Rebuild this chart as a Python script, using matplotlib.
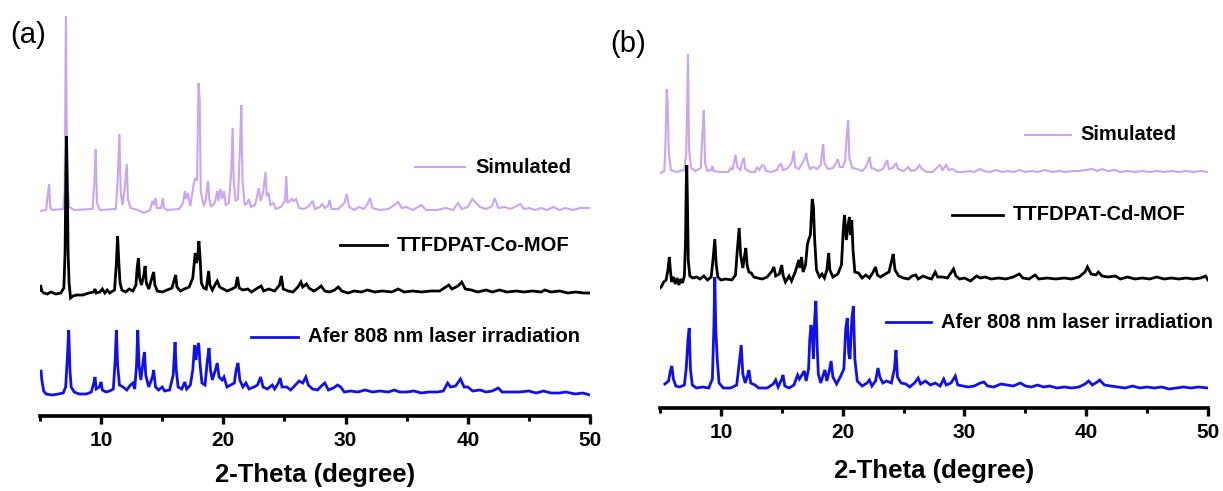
import matplotlib
matplotlib.use('Agg')
import matplotlib.pyplot as plt
import numpy as np
from matplotlib.ticker import MultipleLocator

plt.rcParams['font.family'] = ['Liberation Sans', 'DejaVu Sans']
plt.rcParams['font.weight'] = 'bold'

# (2-theta, intensity above own baseline)
sim_co = [
    (5.0, 0), (5.5, 1), (5.62, 14), (5.74, 27), (5.84, 4), (6.0, 1), (6.9, 2), (7.02, 20), (7.12, 195),
    (7.22, 30), (7.4, 4), (7.8, 1), (9.3, 2), (9.45, 30), (9.56, 62), (9.66, 8), (9.9, 1), (11.2, 2),
    (11.35, 30), (11.5, 77), (11.6, 20), (11.75, 6), (11.95, 25), (12.1, 47), (12.2, 12), (12.4, 3),
    (13.0, 1), (13.5, -2), (14.0, 1), (14.2, 10), (14.3, 6), (14.45, 13), (14.55, 3), (14.9, 3),
    (15.05, 13), (15.15, 3), (15.4, 1), (16.4, 2), (16.7, 8), (16.85, 20), (16.95, 12), (17.1, 18),
    (17.3, 5), (17.55, 25), (17.7, 33), (17.85, 30), (17.97, 128), (18.07, 110), (18.15, 20), (18.4, 5),
    (18.55, 10), (18.75, 30), (18.85, 12), (19.0, 4), (19.3, 8), (19.5, 20), (19.6, 10), (19.75, 22),
    (19.9, 12), (20.05, 20), (20.2, 6), (20.45, 8), (20.65, 40), (20.76, 83), (20.85, 30), (21.0, 10),
    (21.2, 12), (21.38, 70), (21.47, 106), (21.57, 30), (21.75, 6), (21.95, 8), (22.1, 12), (22.25, 4),
    (22.6, 6), (22.9, 23), (23.05, 10), (23.25, 18), (23.45, 39), (23.55, 15), (23.7, 18), (23.85, 6),
    (24.1, 8), (24.3, 2), (24.7, 4), (25.05, 10), (25.15, 35), (25.25, 8), (25.45, 10), (25.6, 12),
    (25.75, 10), (25.95, 12), (26.2, 3), (26.6, 2), (27.0, 5), (27.3, 10), (27.5, 2), (27.9, 4),
    (28.1, 7), (28.3, 3), (28.55, 5), (28.7, 11), (28.85, 2), (29.4, 2), (29.9, 8), (30.1, 17),
    (30.3, 4), (30.7, 1), (31.1, 4), (31.5, 2), (31.8, 7), (32.0, 13), (32.2, 3), (32.8, 1), (33.5, 2),
    (34.0, 6), (34.3, 9), (34.6, 3), (35.0, 4), (35.5, 1), (36.2, 6), (36.6, 1), (37.5, 1), (38.2, 3),
    (38.8, 1), (39.2, 8), (39.5, 2), (40.0, 4), (40.37, 12), (40.6, 9), (41.0, 4), (41.5, 2), (42.0, 5),
    (42.2, 13), (42.5, 3), (43.0, 4), (43.5, 2), (44.0, 5), (44.3, 7), (44.6, 2), (45.0, 3), (45.5, 1),
    (46.0, 3), (46.5, 1), (47.0, 4), (47.5, 1), (48.0, 3), (48.6, 1), (49.2, 3), (50.0, 3),
]

exp_co = [
    (5.0, 3), (5.05, 8), (5.15, 2), (5.3, 0), (5.6, -1), (5.9, 1), (6.3, -1), (6.7, 0), (6.95, 5),
    (7.05, 40), (7.12, 120), (7.17, 157), (7.22, 120), (7.3, 40), (7.38, 10), (7.5, -5), (7.7, -3),
    (8.0, -2), (8.5, -2), (9.0, 0), (9.4, 1), (9.5, 4), (9.6, 0), (9.9, 1), (10.1, 4), (10.3, 0),
    (10.5, 3), (10.7, 0), (11.1, 3), (11.25, 30), (11.35, 57), (11.45, 30), (11.55, 10), (11.7, 3),
    (12.0, 1), (12.3, 4), (12.6, 2), (12.85, 8), (12.95, 25), (13.05, 35), (13.15, 15), (13.3, 8),
    (13.5, 18), (13.6, 27), (13.7, 10), (13.9, 4), (14.15, 15), (14.3, 21), (14.4, 8), (14.6, 2),
    (15.0, 1), (15.4, 3), (15.8, 5), (16.0, 14), (16.1, 18), (16.2, 6), (16.5, 2), (16.8, 4), (17.2, 6),
    (17.5, 15), (17.7, 40), (17.8, 30), (17.9, 35), (18.0, 52), (18.1, 35), (18.2, 10), (18.4, 5),
    (18.6, 4), (18.8, 22), (18.9, 8), (19.1, 3), (19.4, 10), (19.5, 12), (19.7, 6), (20.0, 4),
    (20.3, 2), (20.7, 4), (21.0, 6), (21.15, 16), (21.3, 5), (21.6, 3), (22.0, 4), (22.3, 1), (22.8, 5),
    (23.1, 7), (23.3, 2), (23.7, 4), (24.2, 2), (24.6, 8), (24.75, 17), (24.9, 4), (25.3, 2), (25.7, 1),
    (26.1, 6), (26.35, 11), (26.5, 6), (26.8, 9), (27.0, 5), (27.4, 2), (27.7, 4), (28.0, 7), (28.3, 2),
    (28.7, 1), (29.1, 3), (29.4, 6), (29.7, 2), (30.2, 0), (30.7, 2), (31.3, 1), (31.8, 3), (32.4, 1),
    (33.0, 2), (33.8, 1), (34.3, 4), (34.8, 1), (35.5, 2), (36.2, 1), (37.0, 2), (37.7, 2), (38.2, 6),
    (38.45, 8), (38.7, 4), (39.2, 7), (39.5, 11), (39.8, 4), (40.3, 3), (40.8, 1), (41.5, 3), (42.0, 1),
    (42.6, 3), (43.2, 1), (44.0, 2), (44.6, 1), (45.3, 2), (46.0, 1), (46.3, 3), (46.8, 1), (47.5, 2),
    (48.2, 0), (48.8, 1), (49.5, 0), (50.0, 0),
]

laser_co = [
    (5.0, 22), (5.08, 25), (5.15, 15), (5.3, 4), (5.5, 1), (6.0, 0), (6.5, 1), (6.9, 2), (7.1, 8),
    (7.25, 40), (7.35, 65), (7.45, 25), (7.55, 8), (7.8, 3), (8.2, 1), (8.8, 1), (9.2, 3), (9.4, 12),
    (9.5, 18), (9.6, 6), (9.85, 8), (10.0, 13), (10.1, 5), (10.4, 3), (10.7, 4), (11.0, 6), (11.15, 35),
    (11.25, 65), (11.35, 30), (11.5, 10), (11.8, 8), (12.1, 5), (12.4, 10), (12.6, 12), (12.75, 6),
    (12.9, 30), (13.0, 65), (13.1, 30), (13.25, 15), (13.45, 35), (13.55, 43), (13.65, 20), (13.9, 8),
    (14.2, 18), (14.3, 25), (14.45, 8), (14.7, 5), (15.0, 8), (15.2, 4), (15.6, 5), (15.9, 20),
    (16.05, 53), (16.15, 25), (16.3, 8), (16.6, 6), (16.85, 13), (17.0, 6), (17.3, 10), (17.5, 25),
    (17.65, 50), (17.75, 35), (17.85, 45), (17.98, 52), (18.1, 30), (18.25, 12), (18.5, 10), (18.7, 35),
    (18.83, 47), (18.95, 25), (19.1, 15), (19.35, 25), (19.5, 32), (19.65, 18), (19.9, 15), (20.05, 18),
    (20.3, 8), (20.6, 10), (20.9, 12), (21.05, 25), (21.2, 32), (21.35, 15), (21.6, 8), (21.85, 12),
    (22.1, 6), (22.5, 8), (22.8, 10), (23.05, 18), (23.25, 8), (23.6, 6), (24.0, 10), (24.2, 6),
    (24.5, 12), (24.65, 17), (24.8, 8), (25.2, 8), (25.5, 5), (25.9, 10), (26.2, 14), (26.5, 12),
    (26.75, 18), (26.95, 10), (27.3, 6), (27.7, 5), (28.1, 10), (28.3, 12), (28.6, 5), (29.0, 7),
    (29.35, 10), (29.6, 8), (29.9, 3), (30.4, 4), (31.0, 3), (31.6, 5), (32.2, 3), (32.8, 4), (33.5, 3),
    (34.0, 5), (34.4, 3), (35.0, 3), (35.6, 4), (36.2, 2), (36.8, 3), (37.5, 3), (38.0, 4), (38.35, 12),
    (38.6, 8), (39.0, 9), (39.4, 16), (39.7, 8), (40.0, 8), (40.4, 4), (41.0, 5), (41.5, 3), (42.0, 4),
    (42.5, 7), (42.8, 3), (43.5, 3), (44.2, 3), (45.0, 4), (45.6, 2), (46.2, 4), (46.8, 2), (47.5, 2),
    (48.0, 3), (48.8, 1), (49.4, 2), (50.0, 0),
]

sim_cd = [
    (5.0, 0), (5.35, 2), (5.45, 30), (5.55, 84), (5.63, 70), (5.72, 20), (5.9, 3), (6.3, 1), (7.0, 3),
    (7.15, 20), (7.22, 60), (7.3, 119), (7.38, 25), (7.55, 5), (7.9, 2), (8.35, 5), (8.48, 40),
    (8.6, 63), (8.7, 10), (8.9, 2), (9.2, 3), (9.3, 7), (9.4, 2), (9.9, 1), (10.6, 1), (10.8, 5),
    (10.95, 3), (11.1, 12), (11.2, 18), (11.35, 6), (11.6, 3), (11.8, 13), (11.9, 15), (12.0, 4),
    (12.4, 1), (12.8, 1), (13.0, 6), (13.15, 3), (13.4, 8), (13.55, 7), (13.7, 2), (14.1, 1), (14.6, 3),
    (14.8, 8), (14.95, 9), (15.1, 3), (15.4, 4), (15.7, 8), (15.85, 12), (15.98, 22), (16.1, 6),
    (16.4, 4), (16.7, 10), (16.9, 15), (17.0, 20), (17.1, 12), (17.3, 4), (17.6, 6), (17.9, 4),
    (18.2, 8), (18.3, 20), (18.4, 29), (18.5, 10), (18.8, 4), (19.2, 5), (19.45, 10), (19.6, 14),
    (19.75, 6), (20.0, 6), (20.2, 12), (20.35, 40), (20.45, 53), (20.55, 15), (20.8, 5), (21.2, 4),
    (21.6, 2), (21.9, 6), (22.1, 12), (22.2, 16), (22.35, 5), (22.6, 4), (22.9, 2), (23.3, 4),
    (23.55, 10), (23.65, 13), (23.8, 4), (24.1, 5), (24.4, 10), (24.55, 4), (25.0, 2), (25.4, 6),
    (25.6, 2), (26.0, 3), (26.3, 8), (26.5, 4), (26.9, 1), (27.4, 1), (27.8, 6), (28.0, 8), (28.2, 3),
    (28.5, 8), (28.7, 3), (29.0, 4), (29.4, 1), (29.9, 1), (30.4, 2), (30.8, 1), (31.3, 4), (31.6, 2),
    (32.1, 1), (32.6, 3), (33.1, 1), (33.6, 2), (34.1, 1), (34.5, 3), (35.0, 1), (35.5, 2), (36.0, 1),
    (36.6, 3), (37.2, 1), (37.8, 2), (38.3, 1), (38.9, 2), (39.4, 2), (40.0, 3), (40.5, 4), (40.9, 2),
    (41.3, 4), (41.8, 2), (42.3, 3), (42.8, 1), (43.4, 2), (44.0, 1), (44.6, 2), (45.2, 1), (45.8, 2),
    (46.4, 1), (47.0, 2), (47.6, 1), (48.2, 2), (48.8, 1), (49.4, 2), (50.0, 1),
]

exp_cd = [
    (5.0, -8), (5.15, -6), (5.3, -2), (5.5, 0), (5.65, 10), (5.77, 23), (5.85, 10), (5.95, -2),
    (6.1, 3), (6.25, -4), (6.4, 2), (6.55, -5), (6.7, 1), (6.85, -3), (7.0, 4), (7.1, 40), (7.15, 92),
    (7.2, 115), (7.25, 80), (7.32, 20), (7.45, 4), (7.7, 2), (8.0, 3), (8.3, 1), (8.6, 4), (8.9, 0),
    (9.2, 3), (9.35, 20), (9.5, 41), (9.62, 15), (9.75, 3), (10.0, 0), (10.4, 1), (10.9, 0), (11.2, 5),
    (11.35, 30), (11.5, 52), (11.62, 25), (11.8, 12), (11.95, 25), (12.05, 32), (12.15, 15), (12.3, 8),
    (12.5, 7), (12.7, 3), (13.0, 2), (13.4, 1), (13.8, 3), (14.2, 9), (14.35, 13), (14.5, 4), (14.8, 6),
    (15.0, 15), (15.1, 5), (15.3, -2), (15.6, 4), (15.8, -1), (16.1, 8), (16.4, 20), (16.5, 12),
    (16.62, 23), (16.75, 8), (16.95, 15), (17.1, 35), (17.2, 40), (17.35, 45), (17.5, 81), (17.6, 73),
    (17.7, 40), (17.85, 10), (18.1, 3), (18.3, 6), (18.5, 2), (18.7, 10), (18.85, 27), (18.95, 10),
    (19.2, 3), (19.6, 6), (19.9, 15), (20.05, 50), (20.15, 65), (20.3, 40), (20.45, 55), (20.55, 63),
    (20.65, 45), (20.75, 60), (20.85, 30), (21.0, 8), (21.3, 7), (21.6, 2), (21.9, 5), (22.2, 2),
    (22.5, 8), (22.7, 13), (22.85, 5), (23.1, 3), (23.5, 6), (23.8, 8), (24.0, 18), (24.15, 26),
    (24.3, 10), (24.6, 4), (25.0, 2), (25.4, 1), (25.7, 4), (26.0, 5), (26.2, 1), (26.6, 4), (27.0, 2),
    (27.3, 1), (27.6, 8), (27.8, 3), (28.2, 3), (28.6, 2), (29.1, 11), (29.3, 4), (29.6, 1), (30.0, 2),
    (30.5, -1), (31.0, 4), (31.3, 2), (31.7, 3), (32.2, 1), (32.8, 2), (33.4, 1), (34.0, 3), (34.5, 6),
    (34.8, 2), (35.3, 1), (35.8, 5), (36.1, 1), (36.8, 2), (37.5, 1), (38.2, 2), (38.8, 1), (39.4, 3),
    (39.9, 8), (40.1, 13), (40.4, 6), (40.8, 5), (41.0, 8), (41.3, 4), (41.8, 3), (42.4, 4), (42.8, 1),
    (43.4, 3), (44.0, 1), (44.6, 2), (45.2, 1), (45.8, 3), (46.4, 1), (47.0, 2), (47.6, 1), (48.2, 2),
    (48.8, 1), (49.4, 2), (49.8, 4), (50.0, 0),
]

laser_cd = [
    (5.4, 5), (5.7, 8), (5.85, 18), (5.97, 23), (6.1, 10), (6.3, 3), (6.6, 2), (7.0, 4), (7.15, 20),
    (7.3, 50), (7.4, 61), (7.5, 20), (7.65, 4), (8.0, 1), (8.5, 2), (9.0, 1), (9.3, 10), (9.42, 60),
    (9.5, 112), (9.58, 60), (9.7, 30), (9.85, 6), (10.2, 1), (10.8, 1), (11.3, 4), (11.5, 25),
    (11.67, 44), (11.8, 15), (12.0, 6), (12.2, 14), (12.3, 19), (12.45, 6), (12.8, 4), (13.1, 1),
    (13.8, 1), (14.3, 5), (14.5, 9), (14.7, 2), (15.0, 10), (15.1, 14), (15.25, 3), (15.6, 1), (16.0, 4),
    (16.3, 14), (16.45, 10), (16.7, 15), (16.85, 18), (17.0, 8), (17.2, 20), (17.3, 50), (17.4, 64),
    (17.5, 55), (17.6, 30), (17.7, 70), (17.8, 88), (17.9, 45), (18.0, 15), (18.2, 6), (18.4, 14),
    (18.55, 19), (18.7, 8), (18.9, 18), (19.05, 28), (19.2, 12), (19.5, 5), (19.8, 12), (19.95, 16),
    (20.1, 20), (20.25, 60), (20.38, 71), (20.5, 35), (20.6, 30), (20.75, 70), (20.88, 83), (21.0, 30),
    (21.2, 8), (21.6, 3), (22.0, 6), (22.2, 9), (22.4, 3), (22.7, 8), (22.9, 21), (23.05, 12), (23.3, 6),
    (23.6, 8), (24.0, 6), (24.25, 20), (24.38, 39), (24.5, 12), (24.8, 6), (25.2, 5), (25.5, 2),
    (25.9, 6), (26.2, 11), (26.4, 5), (26.8, 8), (27.2, 4), (27.6, 6), (28.0, 3), (28.3, 10), (28.5, 4),
    (28.9, 6), (29.25, 13), (29.45, 4), (29.9, 3), (30.3, 2), (30.8, 3), (31.3, 6), (31.6, 7), (31.9, 3),
    (32.4, 2), (33.0, 5), (33.5, 4), (34.0, 3), (34.6, 6), (35.0, 3), (35.5, 2), (36.0, 4), (36.5, 2),
    (37.0, 3), (37.6, 1), (38.2, 2), (38.8, 1), (39.4, 2), (39.9, 5), (40.2, 8), (40.5, 4), (40.9, 7),
    (41.1, 9), (41.5, 4), (42.0, 3), (42.6, 2), (43.2, 1), (43.8, 3), (44.4, 1), (45.0, 2), (45.6, 1),
    (46.2, 2), (46.8, 0), (47.4, 1), (48.0, 2), (48.6, 1), (49.2, 2), (50.0, 1),
]

labels_co = ['Simulated', 'TTFDPAT-Co-MOF', 'Afer 808 nm laser irradiation']
labels_cd = ['Simulated', 'TTFDPAT-Cd-MOF', 'Afer 808 nm laser irradiation']

colors = ['#c9a5f2', 'black', '#1010ee']
widths = [1.5, 2.0, 2.0]

fig = plt.figure(figsize=(12.23, 4.91), dpi=100)
W, H = 1223, 491


def make_axes(left, right, bottom, top, labelpad):
    ax = fig.add_axes([left / W, 1 - bottom / H, (right - left) / W, (bottom - top) / H])
    ax.set_xlim(5, 50)
    ax.set_ylim(0, bottom - top)
    for s in ['left', 'right', 'top']:
        ax.spines[s].set_visible(False)
    ax.spines['bottom'].set_linewidth(2.6)
    ax.set_yticks([])
    ax.xaxis.set_major_locator(MultipleLocator(10))
    ax.xaxis.set_minor_locator(MultipleLocator(5))
    ax.tick_params(axis='x', which='major', direction='out', length=6, width=2.4,
                   labelsize=15, pad=5)
    ax.tick_params(axis='x', which='minor', direction='out', length=3.5, width=2.2)
    for lab in ax.get_xticklabels():
        lab.set_fontweight('bold')
    ax.set_xlabel('2-Theta (degree)', fontsize=18.5, fontweight='bold', labelpad=labelpad)
    return ax


def draw_panel(ax, series, offsets, labels, legend_pos):
    for pts, off, c, lw in zip(series, offsets, colors, widths):
        x, y = zip(*pts)
        ax.plot(x, np.array(y) + off, color=c, lw=lw, solid_joinstyle='miter')
    for lab, (x0, x1, ty), c, lw in zip(labels, legend_pos, colors, widths):
        ax.plot([x0, x1], [ty, ty], color=c, lw=lw, transform=ax.transAxes, clip_on=False)
        ax.text(x1 + 0.018, ty, lab, transform=ax.transAxes, fontsize=14.5, fontweight='bold',
                va='center', ha='left', clip_on=False)


ax_a = make_axes(40, 590, 416, 10, 9)
draw_panel(ax_a, [sim_co, exp_co, laser_co], [205, 123, 21], labels_co,
           [(0.682, 0.773, 0.613), (0.545, 0.631, 0.421), (0.384, 0.469, 0.195)])

ax_b = make_axes(660, 1208, 408, 10, 12)
draw_panel(ax_b, [sim_cd, exp_cd, laser_cd], [235, 128, 19], labels_cd,
           [(0.666, 0.750, 0.686), (0.533, 0.626, 0.485), (0.412, 0.495, 0.216)])

fig.text(10 / W, 1 - 35 / H, '(a)', fontsize=21, fontweight='normal', va='center', ha='left')
fig.text(610 / W, 1 - 44 / H, '(b)', fontsize=21, fontweight='normal', va='center', ha='left')

fig.savefig('out.png', dpi=100)
